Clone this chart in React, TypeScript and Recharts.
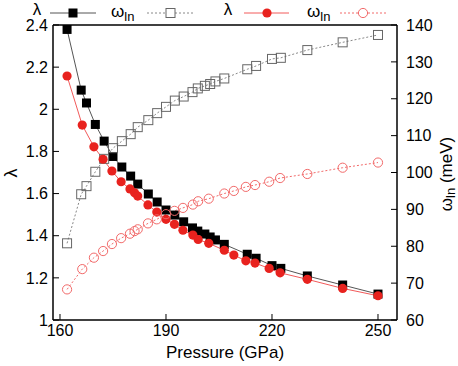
import { ComposedChart, Line, XAxis, YAxis, Legend, Label } from "recharts";

// material A (black / grey squares)
const pressureA = [162, 166, 167.5, 170, 172.5, 175, 177.5, 180, 182, 185, 187.5, 190, 192.5, 195, 197.5, 199, 201, 202.5, 204, 206.5, 213, 215.5, 220, 222.5, 230, 240, 250];
const lambdaA = [2.379, 2.091, 2.03, 1.928, 1.849, 1.776, 1.726, 1.683, 1.645, 1.598, 1.56, 1.522, 1.498, 1.466, 1.437, 1.422, 1.408, 1.394, 1.38, 1.359, 1.312, 1.293, 1.258, 1.245, 1.209, 1.166, 1.123];
const omegaA = [80.8, 94.1, 96.3, 100.2, 103.7, 106.6, 108.5, 110.4, 112.3, 114.2, 116.1, 117.8, 119.5, 120.6, 121.8, 122.8, 123.5, 124, 124.7, 125.5, 128, 128.9, 130.8, 131.1, 133.2, 135.3, 137.3];

// material B (red circles)
const pressureB = [162, 166.3, 169.6, 172.2, 174.7, 177.3, 179.8, 181.1, 182, 184.9, 187.4, 190, 192.4, 194.8, 197.6, 199.1, 202.1, 206.5, 209.2, 212.6, 215.2, 219.2, 222.3, 230, 240, 250];
const lambdaB = [2.158, 1.925, 1.822, 1.763, 1.707, 1.656, 1.622, 1.604, 1.588, 1.546, 1.512, 1.478, 1.454, 1.426, 1.403, 1.382, 1.364, 1.331, 1.308, 1.281, 1.27, 1.245, 1.224, 1.193, 1.15, 1.115];
const omegaB = [68.3, 73.8, 76.9, 78.7, 80.6, 82.2, 83.4, 84.1, 84.6, 86.2, 87.3, 88.7, 89.6, 90.4, 91.3, 92.2, 92.9, 94.3, 95, 96.1, 96.6, 97.5, 98.5, 99.6, 101.3, 102.7];

const xTicks = [160, 190, 220, 250];
const lambdaTicks = [1, 1.2, 1.4, 1.6, 1.8, 2, 2.2, 2.4];
const omegaTicks = [60, 70, 80, 90, 100, 110, 120, 130, 140];

const seriesA = pressureA.map((p, i) => ({ p, lambda: lambdaA[i], omega: omegaA[i] }));
const seriesB = pressureB.map((p, i) => ({ p, lambda: lambdaB[i], omega: omegaB[i] }));

const RED = "#e8221e";
const PINK = "#f26a6a";

const squareFilled = (props: any) => (
  <rect key={`sf-${props.index}`} x={props.cx - 4.5} y={props.cy - 4.5} width={9} height={9} fill="#000" />
);
const squareOpen = (props: any) => (
  <rect key={`so-${props.index}`} x={props.cx - 4.5} y={props.cy - 4.5} width={9} height={9} fill="none" stroke="#666" strokeWidth={1} />
);
const circleFilled = (props: any) => (
  <circle key={`cf-${props.index}`} cx={props.cx} cy={props.cy} r={4.6} fill={RED} />
);
const circleOpen = (props: any) => (
  <circle key={`co-${props.index}`} cx={props.cx} cy={props.cy} r={4.6} fill="none" stroke={PINK} strokeWidth={1} />
);

const Omega = ({ x, y }: { x: number; y: number }) => (
  <text x={x} y={y} fontSize={17} fill="#000">
    ω<tspan dy={4} fontSize={13}>ln</tspan>
  </text>
);

const KeyBox = () => (
  <svg width={458} height={24}>
    <text x={37} y={15} fontSize={17} textAnchor="middle" fill="#000">λ</text>
    <line x1={50} x2={96} y1={13} y2={13} stroke="#555" />
    <rect x={68.5} y={8.5} width={9} height={9} fill="#000" />
    <Omega x={111} y={17} />
    <line x1={147} x2={193} y1={13} y2={13} stroke="#888" strokeDasharray="2 2" />
    <rect x={166} y={8.5} width={9} height={9} fill="#fff" stroke="#666" />
    <text x={228} y={15} fontSize={17} textAnchor="middle" fill="#000">λ</text>
    <line x1={244} x2={289} y1={13} y2={13} stroke="#f25a5a" />
    <circle cx={267} cy={13} r={4.6} fill={RED} />
    <Omega x={307} y={17} />
    <line x1={340} x2={387} y1={13} y2={13} stroke={PINK} strokeDasharray="2 2" />
    <circle cx={363} cy={13} r={4.6} fill="#fff" stroke={PINK} />
  </svg>
);

const tickStyle = { fontSize: 16, fill: "#000" };
const axisStyle = { stroke: "#000", strokeWidth: 1.5 };

export default function App() {
  return (
    <div style={{ fontFamily: "'Liberation Sans', Arial, sans-serif", width: 458, height: 366 }}>
      <style>{`body{margin:0}`}</style>
      <ComposedChart width={458} height={366} margin={{ top: 0, right: 0, bottom: 0, left: 0 }}>
        <XAxis xAxisId="b" type="number" dataKey="p" domain={[158.02, 255.38]} ticks={xTicks} allowDataOverflow
          height={46} tick={tickStyle} tickSize={-6} tickMargin={11} axisLine={axisStyle} tickLine={{ stroke: "#000" }}>
          <Label position="insideBottom" offset={8} value="Pressure (GPa)" fontSize={17} fill="#000" />
        </XAxis>
        <XAxis xAxisId="t" orientation="top" type="number" dataKey="p" domain={[158.02, 255.38]} ticks={xTicks} allowDataOverflow
          height={25} tick={false} tickSize={-6} axisLine={axisStyle} tickLine={{ stroke: "#000" }} />
        <YAxis yAxisId="l" type="number" domain={[1, 2.4]} ticks={lambdaTicks} allowDataOverflow width={53}
          tick={tickStyle} tickSize={-6} tickMargin={11} axisLine={axisStyle} tickLine={{ stroke: "#000" }}>
          <Label content={() => (
            <text x={11} y={173} transform="rotate(-90 11 173)" textAnchor="middle" dominantBaseline="central" fontSize={18} fill="#000">λ</text>
          )} />
        </YAxis>
        <YAxis yAxisId="r" orientation="right" type="number" domain={[60, 140]} ticks={omegaTicks} allowDataOverflow width={61}
          tick={{ ...tickStyle, textAnchor: "start" }} tickSize={-6} tickMargin={15} axisLine={axisStyle} tickLine={{ stroke: "#000" }}>
          <Label content={() => (
            <text x={446} y={174} transform="rotate(-90 446 174)" textAnchor="middle" dominantBaseline="central" fontSize={17} fill="#000">
              ω<tspan dy={4} fontSize={13}>ln</tspan><tspan dy={-4}> (meV)</tspan>
            </text>
          )} />
        </YAxis>
        <Legend layout="horizontal" verticalAlign="middle" align="center"
          wrapperStyle={{ top: 0, left: 0, width: 458, height: 24 }} content={() => <KeyBox />} />
        <Line data={seriesA} xAxisId="b" yAxisId="l" dataKey="lambda" type="linear" stroke="#555" strokeWidth={1}
          dot={squareFilled} activeDot={false} isAnimationActive={false} />
        <Line data={seriesA} xAxisId="b" yAxisId="r" dataKey="omega" type="linear" stroke="#888" strokeWidth={1} strokeDasharray="2 2"
          dot={squareOpen} activeDot={false} isAnimationActive={false} />
        <Line data={seriesB} xAxisId="b" yAxisId="l" dataKey="lambda" type="linear" stroke="#f25a5a" strokeWidth={1}
          dot={circleFilled} activeDot={false} isAnimationActive={false} />
        <Line data={seriesB} xAxisId="b" yAxisId="r" dataKey="omega" type="linear" stroke={PINK} strokeWidth={1} strokeDasharray="2 2"
          dot={circleOpen} activeDot={false} isAnimationActive={false} />
      </ComposedChart>
    </div>
  );
}
